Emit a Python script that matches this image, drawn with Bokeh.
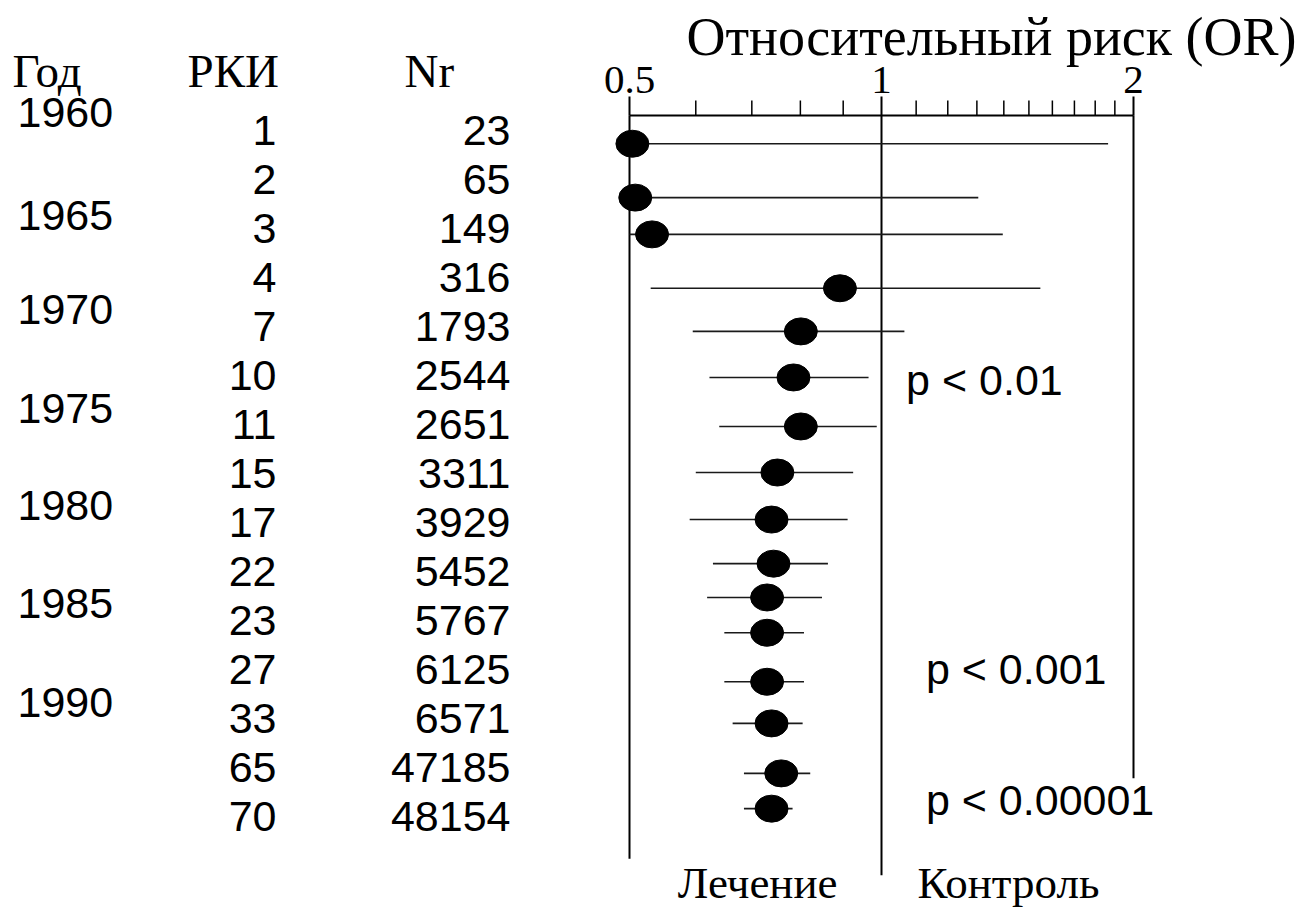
from bokeh.plotting import figure
from bokeh.layouts import row
from bokeh.models import Range1d
from bokeh.core.properties import value
from bokeh.embed import file_html
from bokeh.resources import INLINE

# ---------------- data ----------------
headers = ["Год", "РКИ", "Nr"]
years = ["1960", "1965", "1970", "1975", "1980", "1985", "1990"]
year_row = [-0.37, 1.73, 3.65, 5.67, 7.65, 9.65, 11.67]
rki = ["1", "2", "3", "4", "7", "10", "11", "15", "17", "22", "23", "27", "33", "65", "70"]
nr = ["23", "65", "149", "316", "1793", "2544", "2651", "3311", "3929",
      "5452", "5767", "6125", "6571", "47185", "48154"]
table_row = list(range(len(rki)))

# cumulative odds ratios (point estimate and 95% CI), row position of each estimate
or_est = [0.504, 0.508, 0.532, 0.892, 0.801, 0.785, 0.801, 0.751, 0.739, 0.743,
          0.730, 0.730, 0.730, 0.739, 0.759, 0.739]
or_lo = [0.500, 0.500, 0.500, 0.530, 0.595, 0.623, 0.640, 0.600, 0.590, 0.629,
         0.619, 0.649, 0.649, 0.664, 0.685, 0.685]
or_hi = [1.865, 1.305, 1.396, 1.548, 1.065, 0.965, 0.987, 0.925, 0.911, 0.863,
         0.849, 0.808, 0.808, 0.805, 0.822, 0.783]
or_row = [0.27, 1.37, 2.12, 3.22, 4.10, 5.04, 6.04, 6.98, 7.94, 8.84,
          9.53, 10.25, 11.25, 12.10, 13.12, 13.84]

p_text = ["p < 0.01", "p < 0.001", "p < 0.00001"]
p_or = [1.07, 1.13, 1.13]
p_row = [5.10, 10.98, 13.67]

ref_or = [0.5, 1.0, 2.0]
ref_end_row = [14.86, 15.20, 13.22]

major_ticks = [0.5, 1.0, 2.0]
major_labels = ["0.5", "1", "2"]
minor_ticks = [0.6, 0.7, 0.8, 0.9, 1.1, 1.2, 1.3, 1.4, 1.5, 1.6, 1.7, 1.8, 1.9]

title_text = "Относительный риск (OR)"
side_labels = ["Лечение", "Контроль"]

# ---------------- layout constants ----------------
H = 908
W_LEFT = 580
W_RIGHT = 720
ROW_PX = 49.0
ROW0 = 130.0          # page y of table row 0
AXIS_Y = 115.0        # page y of the OR axis line
A, B = 881.0, 252.0   # page x of OR=1, px per doubling of OR


def row_of(page_y):
    return (page_y - ROW0) / ROW_PX


def or_of(page_x):
    return 2 ** ((page_x - A) / B)


SANS = value("Liberation Sans")
SERIF = value("Liberation Serif")
SANS_SIZE = "43px"

common = dict(height=H, output_backend="svg", toolbar_location=None,
              x_axis_location=None, y_axis_location=None,
              min_border_left=0, min_border_right=0, min_border_top=0, min_border_bottom=0)
y_rng = (row_of(H), row_of(0))

# ---------------- left: table ----------------
left = figure(width=W_LEFT, x_range=Range1d(0, W_LEFT), y_range=Range1d(*y_rng), **common)
left.outline_line_color = None
left.grid.visible = False

left.text(x=[12, 187, 404], y=[row_of(70)] * 3, text=headers,
          text_font=SERIF, text_font_size="47px", text_color="black",
          text_align="left", text_baseline="middle")
left.text(x=[17] * len(years), y=year_row, text=years,
          text_font=SANS, text_font_size=SANS_SIZE, text_color="black",
          text_align="left", text_baseline="middle")
left.text(x=[276] * len(rki), y=table_row, text=rki,
          text_font=SANS, text_font_size=SANS_SIZE, text_color="black",
          text_align="right", text_baseline="middle")
left.text(x=[510] * len(nr), y=table_row, text=nr,
          text_font=SANS, text_font_size=SANS_SIZE, text_color="black",
          text_align="right", text_baseline="middle")

# ---------------- right: forest plot ----------------
right = figure(width=W_RIGHT, x_axis_type="log",
               x_range=Range1d(or_of(W_LEFT), or_of(W_LEFT + W_RIGHT)),
               y_range=Range1d(*y_rng), **common)
right.outline_line_color = None
right.grid.visible = False

axis_row = row_of(AXIS_Y)

# OR scale drawn along the top
right.segment(x0=[major_ticks[0]], x1=[major_ticks[-1]], y0=[axis_row], y1=[axis_row],
              line_color="black", line_width=2)
right.segment(x0=major_ticks, x1=major_ticks, y0=[axis_row] * len(major_ticks),
              y1=[row_of(96)] * len(major_ticks), line_color="black", line_width=2)
right.segment(x0=minor_ticks, x1=minor_ticks, y0=[axis_row] * len(minor_ticks),
              y1=[row_of(100)] * len(minor_ticks), line_color="black", line_width=1.5)
right.text(x=major_ticks, y=[row_of(79)] * len(major_ticks), text=major_labels,
           text_font=SERIF, text_font_size="41px", text_color="black",
           text_align="center", text_baseline="middle")
right.text(x=[or_of(1296)], y=[row_of(36)], text=[title_text],
           text_font=SERIF, text_font_size="54px", text_color="black",
           text_align="right", text_baseline="middle")

# reference lines
right.segment(x0=ref_or, x1=ref_or, y0=[axis_row] * 3, y1=ref_end_row,
              line_color="black", line_width=2)

# confidence intervals and estimates
right.segment(x0=or_lo, x1=or_hi, y0=or_row, y1=or_row,
              line_color="#1a1a1a", line_width=1.6)
right.ellipse(x=or_est, y=or_row, width=33, height=27,
              width_units="screen", height_units="screen",
              fill_color="black", line_color="black")

# p-value notes
right.text(x=p_or, y=p_row, text=p_text,
           text_font=SANS, text_font_size=SANS_SIZE, text_color="black",
           text_align="left", text_baseline="middle")

# side labels under the scale
right.text(x=[1.0], y=[row_of(882)], text=[side_labels[0]], x_offset=-44,
           text_font=SERIF, text_font_size="45px", text_color="black",
           text_align="right", text_baseline="middle")
right.text(x=[1.0], y=[row_of(882)], text=[side_labels[1]], x_offset=36,
           text_font=SERIF, text_font_size="45px", text_color="black",
           text_align="left", text_baseline="middle")

layout = row(left, right)
open("out.html", "w").write(file_html(layout, INLINE))
